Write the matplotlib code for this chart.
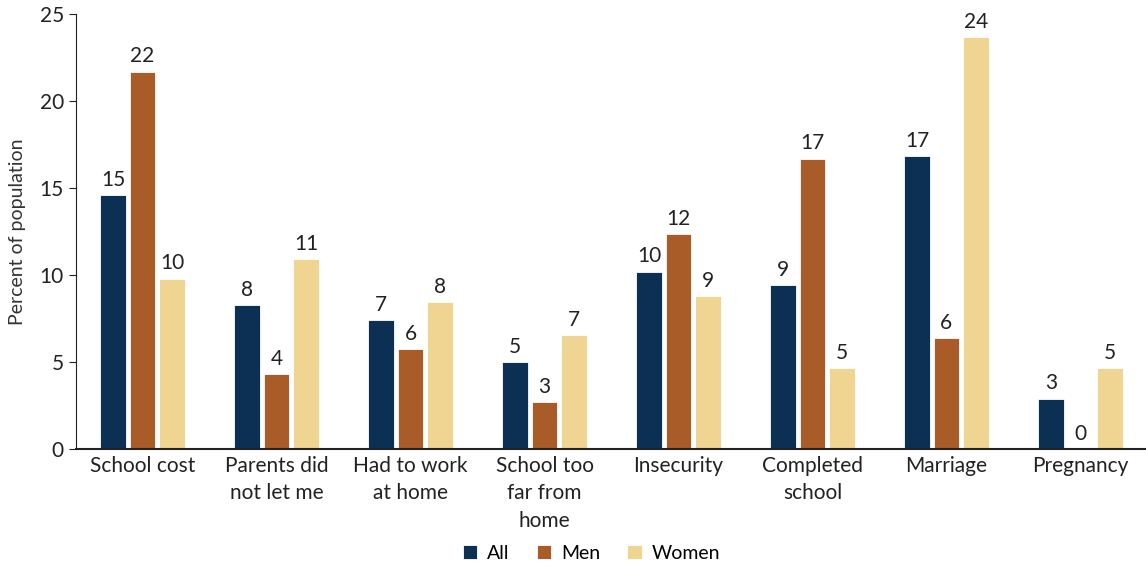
import matplotlib.pyplot as plt
import numpy as np

plt.rcParams['font.family'] = ['Lato', 'DejaVu Sans']

categories = ['School cost', 'Parents did\nnot let me', 'Had to work\nat home', 'School too\nfar from\nhome',
              'Insecurity', 'Completed\nschool', 'Marriage', 'Pregnancy']
all_vals = [14.6, 8.3, 7.4, 5.0, 10.2, 9.45, 16.85, 2.9]
men_vals = [21.7, 4.3, 5.75, 2.7, 12.35, 16.7, 6.4, 0.0]
women_vals = [9.8, 10.9, 8.45, 6.55, 8.8, 4.65, 23.7, 4.65]

series = [('All', all_vals, '#0b3053'), ('Men', men_vals, '#a95c28'), ('Women', women_vals, '#f0d592')]

fig = plt.figure(figsize=(11.46, 5.65), dpi=100)
ax = fig.add_axes([0.066, 0.205, 0.934, 0.77])

x = np.arange(len(categories))
w = 0.19
pitch = 0.22
for i, (name, vals, col) in enumerate(series):
    pos = x + (i - 1) * pitch
    ax.bar(pos, vals, width=w, color=col, label=name, edgecolor='white', linewidth=0.6)
    for px, v in zip(pos, vals):
        ax.text(px, v + 0.3, f'{int(v + 0.5)}', ha='center', va='bottom', fontsize=15, color='#222222')

ax.set_xlim(-0.5, 7.49)
ax.set_ylim(0, 25)
ax.set_yticks([0, 5, 10, 15, 20, 25])
ax.set_xticks(x)
ax.set_xticklabels(categories, fontsize=15, linespacing=1.45, va='top')
ax.tick_params(axis='x', length=0, pad=5, colors='#222222')
ax.tick_params(axis='y', labelsize=15, length=5, colors='#222222')
ax.set_ylabel('Percent of population', fontsize=14, color='#333333', labelpad=10)
for s in ['top', 'right']:
    ax.spines[s].set_visible(False)
ax.spines['left'].set_color('#222222')
ax.spines['bottom'].set_color('#222222')
ax.spines['bottom'].set_linewidth(1.5)

ax.legend(loc='center', bbox_to_anchor=(0.482, -0.24), ncol=3, frameon=False, fontsize=14,
          handlelength=0.75, handleheight=0.75, handletextpad=0.5, columnspacing=1.4)

fig.savefig('out.png', dpi=100)
